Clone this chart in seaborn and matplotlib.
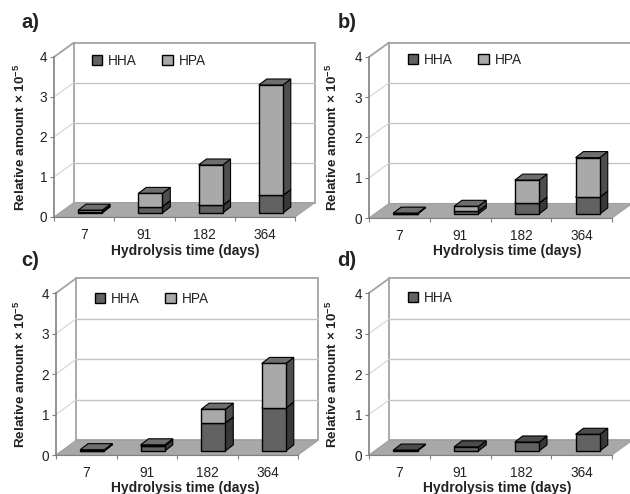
import matplotlib
matplotlib.use('Agg')
import matplotlib.pyplot as plt
import seaborn as sns
from matplotlib.patches import Polygon, Rectangle

sns.set_style('white')
plt.rcParams['font.family'] = ['Liberation Sans', 'DejaVu Sans']
plt.rcParams['mathtext.fontset'] = 'custom'
plt.rcParams['mathtext.bf'] = 'Liberation Sans:bold'

# значения со снимка
days = ['7', '91', '182', '364']
a_hha = [0.03, 0.16, 0.19, 0.44]
a_hpa = [0.04, 0.33, 1.01, 2.76]
b_hha = [0.01, 0.07, 0.27, 0.42]
b_hpa = [0.01, 0.12, 0.57, 0.98]
c_hha = [0.01, 0.13, 0.69, 1.06]
c_hpa = [0.02, 0.02, 0.34, 1.10]
d_hha = [0.02, 0.10, 0.22, 0.41]

W, H = 630, 494
DEPTH_X, DEPTH_Y = 0.33, 0.36    # глубина пола
FRONT_X, FRONT_Y = 0.10, 0.10    # сдвиг столбца от края пола
BAR_X, BAR_Y = 0.13, 0.15        # глубина столбца
COL_HHA = '#626262'
COL_HPA = '#a9a9a9'
GRID = '#c4c4c4'
WALL = '#a2a2a2'

fig = plt.figure(figsize=(W / 100, H / 100), dpi=100)


def draw_panel(box, letter, letter_pos, hha, hpa, legend_pos, ylab_x, xlab_x, xlab_y):
    x0, x1, ytop, ybot = box
    ax = fig.add_axes([x0 / W, 1 - ybot / H, (x1 - x0) / W, (ybot - ytop) / H])
    ax.patch.set_alpha(0)

    sns.barplot(x=days, y=hha, color=COL_HHA, saturation=1, width=0.4, ax=ax,
                edgecolor='black', linewidth=1, label='HHA', zorder=4)
    n_hha = len(ax.patches)
    if hpa is not None:
        sns.barplot(x=days, y=hpa, bottom=hha, color=COL_HPA, saturation=1, width=0.4, ax=ax,
                    edgecolor='black', linewidth=1, label='HPA', zorder=4)

    ax.set_xlim(-0.5, 3.5)
    ax.set_ylim(0, 4)

    # стены и пол
    left, right = -0.5, 3.5
    ax.add_patch(Polygon([(left, 0), (right, 0), (right + DEPTH_X, DEPTH_Y), (left + DEPTH_X, DEPTH_Y)],
                         fc='#a8a8a8', ec='#a0a0a0', lw=0.8, clip_on=False, zorder=1))
    ax.add_patch(Rectangle((left + DEPTH_X, DEPTH_Y), right - left, 4, fc='white', ec=WALL, lw=1.3,
                           clip_on=False, zorder=0.5))
    ax.plot([left, left + DEPTH_X], [4, 4 + DEPTH_Y], color=WALL, lw=1.3, clip_on=False, zorder=1)
    for v in [1, 2, 3]:
        ax.plot([left + DEPTH_X, right + DEPTH_X], [v + DEPTH_Y, v + DEPTH_Y], color=GRID, lw=1,
                clip_on=False, zorder=0.8)
        ax.plot([left, left + DEPTH_X], [v, v + DEPTH_Y], color='#d4d4d4', lw=0.8, clip_on=False, zorder=0.8)

    # объём столбцов
    for i, p in enumerate(ax.patches):
        if not isinstance(p, Rectangle) or p.get_width() > 1:
            continue
        p.set_x(p.get_x() + FRONT_X)
        p.set_y(p.get_y() + FRONT_Y)
        p.set_clip_on(False)
        px, py, pw, ph = p.get_x(), p.get_y(), p.get_width(), p.get_height()
        side = '#383838' if i < n_hha else '#4e4e4e'
        ax.add_patch(Polygon([(px + pw, py), (px + pw + BAR_X, py + BAR_Y),
                              (px + pw + BAR_X, py + ph + BAR_Y), (px + pw, py + ph)],
                             fc=side, ec='black', lw=0.8, clip_on=False, zorder=3))
        top = '#4c4c4c' if i < n_hha else '#6e6e6e'
        ax.add_patch(Polygon([(px, py + ph), (px + pw, py + ph),
                              (px + pw + BAR_X, py + ph + BAR_Y), (px + BAR_X, py + ph + BAR_Y)],
                             fc=top, ec='black', lw=0.8, clip_on=False, zorder=3))

    # оси
    sns.despine(ax=ax, top=True, right=True)
    ax.spines['left'].set_color('#808080')
    ax.spines['bottom'].set_color('#808080')
    ax.spines['left'].set_linewidth(1.2)
    ax.spines['left'].set_zorder(2)
    ax.spines['bottom'].set_zorder(2)
    ax.set_yticks([0, 1, 2, 3, 4])
    ax.set_xticks([-0.5, 0.5, 1.5, 2.5, 3.5], minor=True)
    ax.tick_params(axis='x', which='major', length=0, pad=8, labelsize=9.8, labelcolor='#222222')
    ax.tick_params(axis='x', which='minor', bottom=True, length=3, width=0.8, color='#808080')
    ax.tick_params(axis='y', left=True, length=3, width=0.8, color='#808080', pad=2,
                   labelsize=9.8, labelcolor='#222222')

    ax.set_xlabel('Hydrolysis time (days)', fontsize=10, fontweight='bold', color='#222222', va='center')
    ax.xaxis.set_label_coords((xlab_x - x0) / (x1 - x0), (ybot - xlab_y) / (ybot - ytop))
    ax.set_ylabel('Relative amount × 10$\\mathbf{^{-5}}$', fontsize=9.7, fontweight='bold', color='#222222',
                  va='center')
    ax.yaxis.set_label_coords((ylab_x - x0) / (x1 - x0), 0.5)

    leg = ax.legend(ncol=2, loc='center left', frameon=False, fontsize=9.8, borderpad=0, borderaxespad=0,
                    bbox_to_anchor=(legend_pos[0] / W, 1 - legend_pos[1] / H), bbox_transform=fig.transFigure,
                    handlelength=0.75, handleheight=0.75, handletextpad=0.45, columnspacing=1.85,
                    labelcolor='#222222')
    leg.set_zorder(6)

    fig.text(letter_pos[0] / W, 1 - letter_pos[1] / H, letter, fontsize=14.5, fontweight='bold',
             color='#222222', va='center', ha='left')


draw_panel((54, 295, 57, 217), 'a)', (21, 22), a_hha, a_hpa, (92, 61), 20, 185, 251)
draw_panel((369, 612, 57, 218), 'b)', (338, 23), b_hha, b_hpa, (408, 60), 332, 507, 251)
draw_panel((56, 298, 293, 455), 'c)', (21, 260), c_hha, c_hpa, (95, 299), 20, 185, 488)
draw_panel((369, 612, 293, 455), 'd)', (337, 260), d_hha, None, (408, 298), 332, 497, 488)

fig.savefig('out.png', dpi=100)
